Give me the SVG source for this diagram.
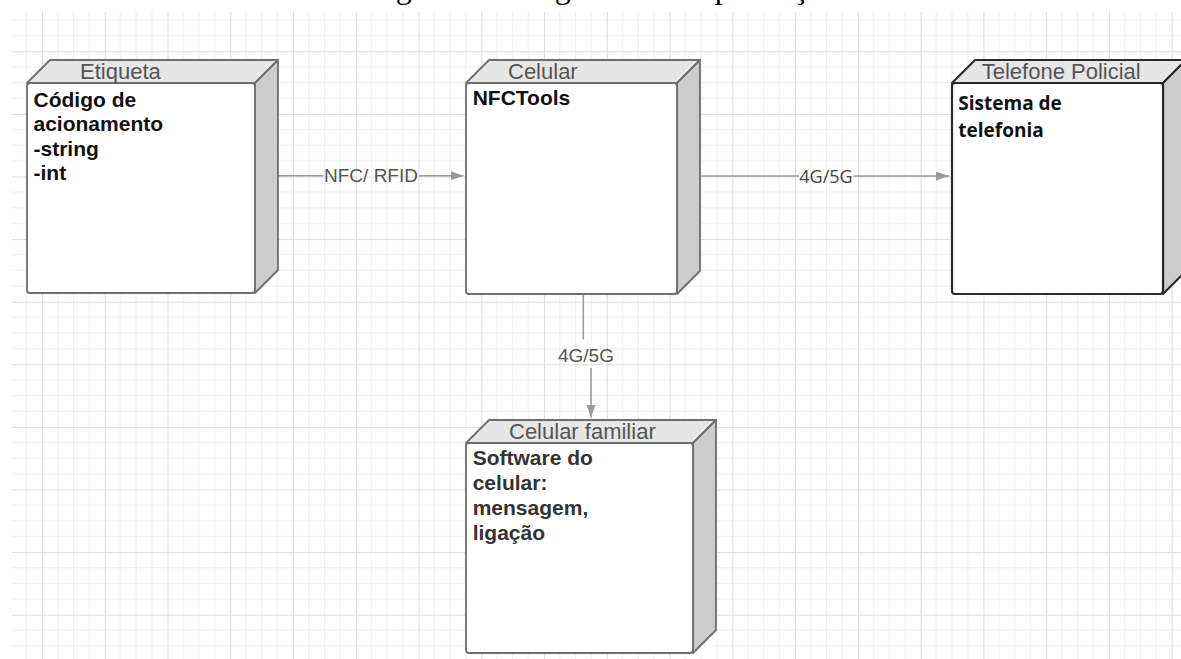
<svg xmlns="http://www.w3.org/2000/svg" width="1181" height="659" viewBox="0 0 1181 659">
<style>
.front{fill:#ffffff;stroke:#6e6e6e;stroke-width:1.8}
.topf{fill:#e6e6e6;stroke:#6e6e6e;stroke-width:1.8;stroke-linejoin:round}
.side{fill:#cccccc;stroke:#6e6e6e;stroke-width:1.8;stroke-linejoin:round}
.dark .front,.dark .topf,.dark .side{stroke:#2b2b2b;stroke-width:2.2}
.hdr{font-family:"Liberation Sans",Arial,sans-serif;font-size:22px;fill:#555555}
.body{font-family:"Liberation Sans",Arial,sans-serif;font-weight:bold;font-size:21px;fill:#111111}
.body2{font-family:"Open Sans","Noto Sans",sans-serif;font-weight:bold;font-size:19px;fill:#111111}
.lbl{font-family:"Liberation Sans",Arial,sans-serif;font-size:19px;fill:#555555}
.lbl2{font-family:"Open Sans","Noto Sans",sans-serif;font-size:18px;fill:#444444}
.conn{fill:none;stroke:#9a9a9a;stroke-width:1.6}
.cap{font-family:"Liberation Serif","Times New Roman",serif;font-size:32px;fill:#000000}
</style>
<defs>
<pattern id="grid" patternUnits="userSpaceOnUse" x="42" y="51.3" width="62.76" height="62.6">
<path d="M15.69 0V62.6M31.38 0V62.6M47.07 0V62.6M0 15.65H62.76M0 31.3H62.76M0 46.95H62.76" stroke="#efefef" stroke-width="1" fill="none"/>
<path d="M0.5 0V62.6M0 0.5H62.76" stroke="#dcdcdc" stroke-width="1" fill="none"/>
</pattern>
<marker id="arr" viewBox="0 0 13 9" refX="13" refY="4.5" markerWidth="13" markerHeight="9" markerUnits="userSpaceOnUse" orient="auto">
<path d="M0 0L13 4.5L0 9Z" fill="#9a9a9a"/>
</marker>
</defs>
<rect x="0" y="0" width="1181" height="659" fill="#ffffff"/>
<rect x="12" y="12" width="1169" height="647" fill="url(#grid)"/>
<text class="cap" x="369" y="-2">Figura 3 – Diagrama de implantação</text>

<g id="connectors">
<path class="conn" d="M277 175.7H323.5"/>
<path class="conn" d="M419 175.7H463.5" marker-end="url(#arr)"/>
<text class="lbl" x="371" y="182" text-anchor="middle">NFC/ RFID</text>
<path class="conn" d="M701 176H799"/>
<path class="conn" d="M853.5 176H949" marker-end="url(#arr)"/>
<text class="lbl2" x="826" y="183" text-anchor="middle">4G/5G</text>
<path class="conn" d="M583.3 294V339.5"/>
<path class="conn" d="M591 368V417.5" marker-end="url(#arr)"/>
<text class="lbl" x="586" y="361.5" text-anchor="middle">4G/5G</text>
</g>

<g id="node-etiqueta">
<polygon class="topf" points="27,83 50,60 278,60 255,83"/>
<polygon class="side" points="255,83 278,60 278,270 255,293"/>
<rect class="front" x="27" y="83" width="228" height="210" rx="3"/>
<text class="hdr" x="80" y="79">Etiqueta</text>
<text class="body" x="33.5" y="106.5">Código de</text>
<text class="body" x="33.5" y="131">acionamento</text>
<text class="body" x="33.5" y="155.5">-string</text>
<text class="body" x="33.5" y="180">-int</text>
</g>

<g id="node-celular">
<polygon class="topf" points="466,83 489,60 700,60 677,83"/>
<polygon class="side" points="677,83 700,60 700,271 677,294"/>
<rect class="front" x="466" y="83" width="211" height="211" rx="3"/>
<text class="hdr" x="508" y="78.5">Celular</text>
<text class="body" x="472.7" y="105">NFCTools</text>
</g>

<g id="node-telefone" class="dark">
<polygon class="topf" points="952,83 975,60 1186,60 1163,83"/>
<polygon class="side" points="1163,83 1186,60 1186,271 1163,294"/>
<rect class="front" x="952" y="83" width="211" height="211" rx="3"/>
<text class="hdr" x="981.7" y="78.5">Telefone Policial</text>
<text class="body2" x="958.3" y="110">Sistema de</text>
<text class="body2" x="958.3" y="136.7">telefonia</text>
</g>

<g id="node-celular-familiar">
<polygon class="topf" points="466,443 489,420 716,420 693,443"/>
<polygon class="side" points="693,443 716,420 716,630 693,653"/>
<rect class="front" x="466" y="443" width="227" height="210" rx="3"/>
<text class="hdr" x="509" y="439.3">Celular familiar</text>
<text class="body" x="472.7" y="464.5" style="fill:#333333">Software do</text>
<text class="body" x="472.7" y="489.5" style="fill:#333333">celular:</text>
<text class="body" x="472.7" y="514.5" style="fill:#333333">mensagem,</text>
<text class="body" x="472.7" y="539.5" style="fill:#333333">ligação</text>
</g>
</svg>
